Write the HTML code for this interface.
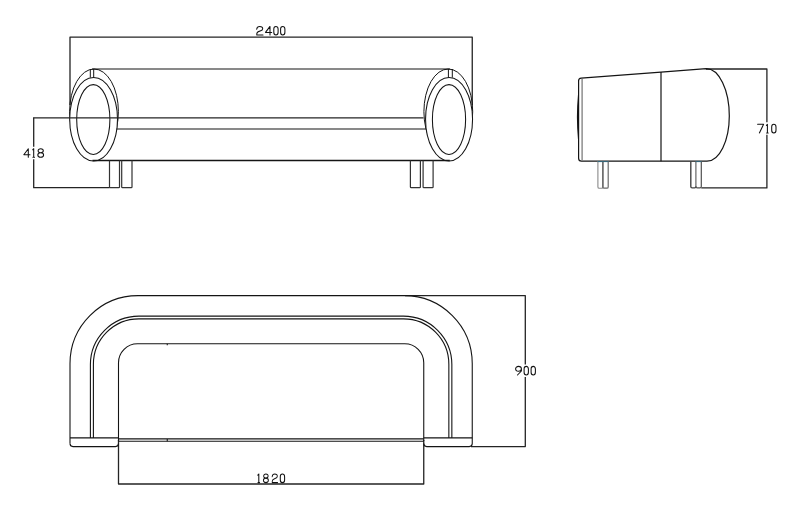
<!DOCTYPE html>
<html><head><meta charset="utf-8"><title>Sofa dimensions</title>
<style>
html,body{margin:0;padding:0;background:#fff;font-family:"Liberation Sans",sans-serif;}
body{width:800px;height:505px;overflow:hidden;}
svg{display:block;}
</style></head>
<body>
<svg width="800" height="505" viewBox="0 0 800 505">
<rect width="800" height="505" fill="#fff"/>
<g fill="none" stroke="#242424" stroke-width="1.3" stroke-linejoin="round">
<path d="M70,105 V37.1 H472.25 V105"/>
<path d="M33.7,146.8 V117.85"/>
<path d="M33.7,159.2 V187.7 H109.5"/>
<path d="M706,69 H766.9 V122.2 M766.9,134.8 V187.9 H701.3"/>
<path d="M405,295.6 H525.3 V364.4 M525.3,377.1 V446.6 H471"/>
<path d="M118.5,440 V484 H423.75 V440"/>
</g>
<g fill="none" stroke="#141414" stroke-width="1.2">
<path d="M92,69 H450"/>
<ellipse cx="94" cy="111.6" rx="24.4" ry="42.6" stroke-width="1"/>
<ellipse cx="93.6" cy="119.25" rx="23.9" ry="41.75" fill="#fff" stroke-width="1.05"/>
<ellipse cx="93.3" cy="119.5" rx="16.6" ry="34.9" stroke-width="1.05"/>
<path d="M90.3,69 V77.6 M93.7,69 V77.6" stroke-width="1"/>
<ellipse cx="448.3" cy="111.6" rx="24.4" ry="42.6" stroke-width="1"/>
<ellipse cx="449.05" cy="119.25" rx="23.5" ry="41.75" fill="#fff" stroke-width="1.05"/>
<ellipse cx="449" cy="119.5" rx="16.6" ry="34.9" stroke-width="1.05"/>
<path d="M448.4,69 V77.6 M452.3,69 V77.6" stroke-width="1"/>
<path d="M116.6,129 H425.8"/>
<path d="M92.5,160.6 H449.8" stroke-width="1.5"/>
<path d="M109.5,160.6 V186.9 Q109.5,187.7 110.3,187.7 H118.7 Q119.5,187.7 119.5,186.9 V160.6" stroke="#333" stroke-width="1.2"/>
<path d="M121.7,160.6 V186.9 Q121.7,187.7 122.5,187.7 H131.2 Q132,187.7 132,186.9 V160.6" stroke="#333" stroke-width="1.2"/>
<path d="M410.4,160.6 V186.9 Q410.4,187.7 411.2,187.7 H419.59999999999997 Q420.4,187.7 420.4,186.9 V160.6" stroke="#333" stroke-width="1.2"/>
<path d="M423.1,160.6 V186.9 Q423.1,187.7 423.90000000000003,187.7 H432.3 Q433.1,187.7 433.1,186.9 V160.6" stroke="#333" stroke-width="1.2"/>
<path d="M581.2,78.05 L661,72.1 L706.25,68.6 A23.05,47.4 0 0 1 729.3,116 A22.3,45.15 0 0 1 707,161.15 H581.5 Q578.6,161.15 578.6,158.2 V80.8 Q578.6,78.2 581.2,78.05 Z"/>
<path d="M578.5,95 Q576.4,117 578.5,139" stroke-width="1.1"/>
<path d="M661,72.1 V161.15"/>
<path d="M582.1,79 V160.6" stroke="#7c7c7c" stroke-width="1.3"/>
<path d="M597.9,161.3 V186.89999999999998 Q597.9,188.2 599.1999999999999,188.2 H601.6 Q602.9,188.2 602.9,186.89999999999998" stroke="#8a8a8a" stroke-width="1.1"/>
<path d="M602.9,186.89999999999998 Q602.9,188.2 604.1999999999999,188.2 H606.9000000000001 Q608.2,188.2 608.2,186.89999999999998 V161.3" stroke="#6a6a6a" stroke-width="1.2"/>
<path d="M602.9,161.3 V187.2" stroke="#565656" stroke-width="1.5"/>
<path d="M597.6,161.6 H608.5" stroke="#2f6c82" stroke-width="0.9"/>
<path d="M690.8,161.3 V186.6 Q690.8,187.9 692.0999999999999,187.9 H694.6 Q695.9,187.9 695.9,186.6" stroke="#444" stroke-width="1.4"/>
<path d="M695.9,186.6 Q695.9,187.9 697.1999999999999,187.9 H700.0 Q701.3,187.9 701.3,186.6 V161.3" stroke="#505050" stroke-width="1.2"/>
<path d="M695.9,161.3 V186.9" stroke="#585858" stroke-width="1.1"/>
<path d="M695.6,161.6 H701.5999999999999" stroke="#2f6c82" stroke-width="0.9"/>
<g stroke-width="1.1">
<path d="M70,443.6 V363.6 A68,68 0 0 1 138,295.6 H404.25 A68,68 0 0 1 472.25,363.6 V443.6 A3,3 0 0 1 469.25,446.6 H426.75 A3,3 0 0 1 423.75,443.6"/>
<path d="M70,443.6 A3,3 0 0 0 73,446.6 H115.5 A3,3 0 0 0 118.5,443.6"/>
<path d="M90.4,437.9 V364.6 A48.5,48.5 0 0 1 138.9,316.1 H403.35 A48.5,48.5 0 0 1 451.85,364.6 V437.9"/>
<path d="M93.4,437.9 V364.4 A45.5,45.5 0 0 1 138.9,318.9 H403.35 A45.5,45.5 0 0 1 448.85,364.4 V437.9"/>
<path d="M118.5,441 V362.75 A19,19 0 0 1 137.5,343.75 H404.75 A19,19 0 0 1 423.75,362.75 V441"/>
<path d="M70,437.9 H118.5 M423.75,437.9 H472.25"/>
<path d="M118.5,438.9 H423.75 M118.5,441.2 H423.75"/>
<path d="M167.25,343.75 V345.2 M167.25,438.9 V441.2"/>
</g>
</g>
<path d="M33.1,117.85 H423.5" fill="none" stroke="#242424" stroke-width="1.3"/>
<g fill="none" stroke="#111" stroke-width="1.05" stroke-linecap="round" stroke-linejoin="round">
<path transform="translate(256.5,26.4)" d="M0.2,2.8 C0.4,1 1.5,0 3.2,0 C5,0 6.2,0.9 6.2,2.3 C6.2,3.6 5.2,4.1 3.6,4.6 C1.6,5.2 0.3,5.8 0.3,7.3 V8.6 H6.5"/>
<path transform="translate(265.5,26.4)" d="M4.5,8.6 V0 L0,6 H6.2"/>
<path transform="translate(273.8,26.4)" d="M0,2.65 C0,0.9 0.9675,0 2.15,0 C3.3324999999999996,0 4.3,0.9 4.3,2.65 V5.949999999999999 C4.3,7.699999999999999 3.3324999999999996,8.6 2.15,8.6 C0.9675,8.6 0,7.699999999999999 0,5.949999999999999 Z"/>
<path transform="translate(280.6,26.4)" d="M0,2.65 C0,0.9 0.9675,0 2.15,0 C3.3324999999999996,0 4.3,0.9 4.3,2.65 V5.949999999999999 C4.3,7.699999999999999 3.3324999999999996,8.6 2.15,8.6 C0.9675,8.6 0,7.699999999999999 0,5.949999999999999 Z"/>
<path transform="translate(23.8,148.7)" d="M4.5,8.6 V0 L0,6 H6.2"/>
<path transform="translate(33.7,148.7)" d="M-1.0,1.1 L0,0 V8.6 M-0.8,8.6 H0.8"/>
<path transform="translate(37.8,148.7)" d="M2.9,4.1 C1.2,4.1 0.3,3.2 0.3,2.1 C0.3,0.9 1.3,0 2.9,0 C4.5,0 5.5,0.9 5.5,2.1 C5.5,3.2 4.6,4.1 2.9,4.1 C1,4.1 0,5 0,6.3 C0,7.7 1.1,8.6 2.9,8.6 C4.7,8.6 5.8,7.7 5.8,6.3 C5.8,5 4.8,4.1 2.9,4.1 Z"/>
<path transform="translate(757.6,124.3)" d="M0,0 H6 L1.8,8.6"/>
<path transform="translate(767.4,124.3)" d="M-1.0,1.1 L0,0 V8.6 M-0.8,8.6 H0.8"/>
<path transform="translate(771.7,124.3)" d="M0,2.65 C0,0.9 0.9675,0 2.15,0 C3.3324999999999996,0 4.3,0.9 4.3,2.65 V5.949999999999999 C4.3,7.699999999999999 3.3324999999999996,8.6 2.15,8.6 C0.9675,8.6 0,7.699999999999999 0,5.949999999999999 Z"/>
<path transform="translate(515.6,366.4)" d="M5.8,2.4 C5.8,3.9 4.6,4.8 2.9,4.8 C1.2,4.8 0,3.9 0,2.4 C0,1 1.2,0 2.9,0 C4.6,0 5.8,1 5.8,2.4 V4.6 L1.9,8.6"/>
<path transform="translate(524.1,366.4)" d="M0,2.65 C0,0.9 0.9675,0 2.15,0 C3.3324999999999996,0 4.3,0.9 4.3,2.65 V5.949999999999999 C4.3,7.699999999999999 3.3324999999999996,8.6 2.15,8.6 C0.9675,8.6 0,7.699999999999999 0,5.949999999999999 Z"/>
<path transform="translate(531.1,366.4)" d="M0,2.65 C0,0.9 0.9675,0 2.15,0 C3.3324999999999996,0 4.3,0.9 4.3,2.65 V5.949999999999999 C4.3,7.699999999999999 3.3324999999999996,8.6 2.15,8.6 C0.9675,8.6 0,7.699999999999999 0,5.949999999999999 Z"/>
<path transform="translate(258.8,474.0)" d="M-1.0,1.1 L0,0 V8.6 M-0.8,8.6 H0.8"/>
<path transform="translate(263.4,474.0) scale(0.86,1)" d="M2.9,4.1 C1.2,4.1 0.3,3.2 0.3,2.1 C0.3,0.9 1.3,0 2.9,0 C4.5,0 5.5,0.9 5.5,2.1 C5.5,3.2 4.6,4.1 2.9,4.1 C1,4.1 0,5 0,6.3 C0,7.7 1.1,8.6 2.9,8.6 C4.7,8.6 5.8,7.7 5.8,6.3 C5.8,5 4.8,4.1 2.9,4.1 Z"/>
<path transform="translate(272.0,474.0) scale(0.86,1)" d="M0.2,2.8 C0.4,1 1.5,0 3.2,0 C5,0 6.2,0.9 6.2,2.3 C6.2,3.6 5.2,4.1 3.6,4.6 C1.6,5.2 0.3,5.8 0.3,7.3 V8.6 H6.5"/>
<path transform="translate(280.3,474.0)" d="M0,2.65 C0,0.9 0.9675,0 2.15,0 C3.3324999999999996,0 4.3,0.9 4.3,2.65 V5.949999999999999 C4.3,7.699999999999999 3.3324999999999996,8.6 2.15,8.6 C0.9675,8.6 0,7.699999999999999 0,5.949999999999999 Z"/>
</g>
</svg>
</body></html>
